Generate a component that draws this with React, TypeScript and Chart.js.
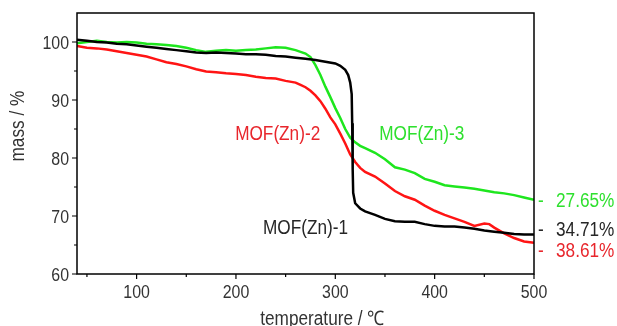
import { useEffect, useRef } from 'react';
import { Chart, registerables } from 'chart.js';
Chart.register(...registerables);

const FONT = "'Liberation Sans', Arial, sans-serif";
const SQUEEZE = 0.86; // horizontal compression to mimic the narrow typeface

// MOF(Zn)-1 (black)
const tempZn1 = [40, 50, 60, 70, 80, 90, 100, 110, 120, 130, 140, 150, 160, 170, 180, 190, 200, 210, 220, 230, 240, 250, 260, 270, 280, 290, 300, 305, 310, 313, 315, 316.5, 317, 317.5, 318, 320, 325, 330, 340, 350, 360, 370, 380, 390, 400, 410, 420, 430, 440, 450, 460, 470, 480, 490, 500];
const massZn1 = [100.4, 100.2, 100.0, 99.9, 99.7, 99.6, 99.4, 99.2, 99.0, 98.8, 98.6, 98.4, 98.2, 98.1, 98.2, 98.1, 98.0, 97.9, 97.9, 97.8, 97.6, 97.5, 97.3, 97.1, 96.9, 96.6, 96.3, 95.9, 95.2, 94.3, 93.0, 91.0, 86.0, 78.0, 74.0, 72.2, 71.3, 70.8, 70.2, 69.5, 69.1, 69.0, 69.0, 68.6, 68.3, 68.2, 68.2, 68.0, 67.8, 67.5, 67.3, 67.1, 66.9, 66.8, 66.8];

// MOF(Zn)-2 (red)
const tempZn2 = [40, 50, 60, 70, 80, 90, 100, 110, 120, 130, 140, 150, 160, 170, 180, 190, 200, 210, 220, 230, 240, 250, 260, 265, 270, 275, 280, 285, 290, 295, 300, 305, 310, 315, 320, 325, 330, 340, 350, 360, 370, 380, 390, 400, 410, 420, 430, 440, 450, 455, 460, 470, 480, 490, 500];
const massZn2 = [99.3, 99.0, 98.9, 98.7, 98.4, 98.1, 97.8, 97.5, 97.0, 96.5, 96.2, 95.8, 95.3, 94.9, 94.8, 94.6, 94.5, 94.3, 94.0, 93.8, 93.7, 93.3, 93.0, 92.6, 92.2, 91.6, 90.8, 89.8, 88.5, 87.0, 85.8, 84.2, 82.5, 80.6, 79.3, 78.3, 77.6, 76.8, 75.6, 74.3, 73.4, 72.8, 71.8, 70.9, 70.2, 69.6, 69.0, 68.3, 68.7, 68.6, 68.0, 67.0, 66.2, 65.6, 65.4];

// MOF(Zn)-3 (green)
const tempZn3 = [40, 50, 60, 70, 80, 90, 100, 110, 120, 130, 140, 150, 160, 170, 180, 190, 200, 210, 220, 230, 240, 250, 260, 265, 270, 275, 280, 285, 290, 295, 300, 305, 310, 315, 320, 325, 330, 340, 350, 360, 370, 380, 390, 400, 410, 420, 430, 440, 450, 460, 470, 480, 490, 500];
const massZn3 = [99.8, 100.0, 100.2, 100.0, 99.9, 100.0, 99.9, 99.7, 99.6, 99.5, 99.3, 99.0, 98.6, 98.3, 98.5, 98.6, 98.5, 98.6, 98.7, 98.9, 99.1, 99.0, 98.6, 98.3, 98.0, 97.4, 96.0, 94.3, 92.3, 90.5, 88.6, 86.9, 85.0, 83.5, 82.7, 82.1, 81.7, 80.9, 79.8, 78.4, 78.0, 77.4, 76.4, 75.9, 75.3, 75.1, 74.9, 74.7, 74.4, 74.1, 73.9, 73.6, 73.2, 72.8];

const xTicks = [100, 200, 300, 400, 500];
const xMinorTicks = [50, 150, 250, 350, 450];
const yTicks = [60, 70, 80, 90, 100];
const yMinorTicks = [65, 75, 85, 95];

const seriesNames = ['MOF(Zn)-1', 'MOF(Zn)-2', 'MOF(Zn)-3'];
const seriesColors = ['#000000', '#ff1414', '#1ee61e'];
const labelColors = ['#262626', '#e8262c', '#2ee02e'];
const massLoss = ['34.71%', '38.61%', '27.65%'];

// anchors (data units) for the in-plot labels and right-hand loss labels
const nameAnchors = [
  { t: 270, m: 68.1 },
  { t: 242, m: 84.3 },
  { t: 387, m: 84.3 },
];
const lossAnchors = [67.8, 64.1, 72.8];

function text(ctx: any, s: string, x: number, y: number, align: string, size: number, color: string, rot = 0) {
  ctx.save();
  ctx.translate(x, y);
  if (rot) ctx.rotate(rot);
  ctx.scale(SQUEEZE, 1);
  ctx.font = `${size}px ${FONT}`;
  ctx.fillStyle = color;
  ctx.textAlign = align;
  ctx.textBaseline = 'alphabetic';
  ctx.fillText(s, 0, 0);
  ctx.restore();
}

const decor = {
  id: 'decor',
  afterDatasetsDraw(chart: any) {
    const { ctx, chartArea, scales } = chart;
    const { left, right, top, bottom } = chartArea;
    const x = scales.x;
    const y = scales.y;
    ctx.save();
    ctx.strokeStyle = '#000';
    ctx.lineWidth = 1.5;
    ctx.strokeRect(left, top, right - left, bottom - top);
    ctx.lineWidth = 1.2;
    ctx.beginPath();
    xTicks.forEach((v) => {
      const p = x.getPixelForValue(v);
      ctx.moveTo(p, bottom);
      ctx.lineTo(p, bottom + 5);
    });
    xMinorTicks.forEach((v) => {
      const p = x.getPixelForValue(v);
      ctx.moveTo(p, bottom);
      ctx.lineTo(p, bottom + 3);
    });
    yTicks.forEach((v) => {
      const p = y.getPixelForValue(v);
      ctx.moveTo(left, p);
      ctx.lineTo(left - 5, p);
    });
    yMinorTicks.forEach((v) => {
      const p = y.getPixelForValue(v);
      ctx.moveTo(left, p);
      ctx.lineTo(left - 3, p);
    });
    ctx.stroke();
    ctx.restore();

    // tick labels
    xTicks.forEach((v) => text(ctx, String(v), x.getPixelForValue(v), bottom + 24, 'center', 18.5, '#333'));
    yTicks.forEach((v) => text(ctx, String(v), left - 8, y.getPixelForValue(v) + 6.6, 'right', 18.5, '#333'));

    // series labels
    seriesNames.forEach((n, i) => {
      text(ctx, n, x.getPixelForValue(nameAnchors[i].t), y.getPixelForValue(nameAnchors[i].m) + 7.2, 'center', 20, labelColors[i]);
    });
    massLoss.forEach((s, i) => {
      const py = y.getPixelForValue(lossAnchors[i]) + 7.2;
      text(ctx, '-', right + 4, py, 'left', 20, labelColors[i]);
      text(ctx, s, right + 22, py, 'left', 20, labelColors[i]);
    });

    // axis titles
    text(ctx, 'temperature / ℃', x.getPixelForValue(287), bottom + 51, 'center', 20, '#333');
    text(ctx, 'mass / %', 24, y.getPixelForValue(85.5), 'center', 20, '#333', -Math.PI / 2);
  },
};

export default function App() {
  const ref = useRef<HTMLCanvasElement>(null);
  useEffect(() => {
    document.body.style.margin = '0';
    const temps = [tempZn1, tempZn2, tempZn3];
    const masses = [massZn1, massZn2, massZn3];
    const chart = new Chart(ref.current!, {
      type: 'scatter',
      data: {
        datasets: seriesNames.map((n, i) => ({
          label: n,
          data: temps[i].map((t, j) => ({ x: t, y: masses[i][j] })),
          showLine: true,
          borderColor: seriesColors[i],
          backgroundColor: seriesColors[i],
          borderWidth: 2.5,
          pointRadius: 0,
          tension: 0,
        })),
      },
      options: {
        responsive: false,
        animation: false,
        layout: { padding: { left: 0, right: 83, top: 13, bottom: 0 } },
        plugins: { legend: { display: false }, tooltip: { enabled: false } },
        scales: {
          x: {
            type: 'linear',
            min: 40,
            max: 500,
            grid: { display: false, drawTicks: false },
            border: { display: false },
            afterBuildTicks: (s: any) => {
              s.ticks = xTicks.map((v) => ({ value: v }));
            },
            afterFit: (s: any) => {
              s.height = 52;
            },
            ticks: { display: false },
          },
          y: {
            type: 'linear',
            min: 60,
            max: 105,
            grid: { display: false, drawTicks: false },
            border: { display: false },
            afterBuildTicks: (s: any) => {
              s.ticks = yTicks.map((v) => ({ value: v }));
            },
            afterFit: (s: any) => {
              s.width = 77;
            },
            ticks: { display: false },
          },
        },
      },
      plugins: [decor],
    });
    return () => chart.destroy();
  }, []);
  return (
    <div style={{ width: 617, height: 326, background: '#fff' }}>
      <canvas ref={ref} width={617} height={326} style={{ display: 'block' }} />
    </div>
  );
}
